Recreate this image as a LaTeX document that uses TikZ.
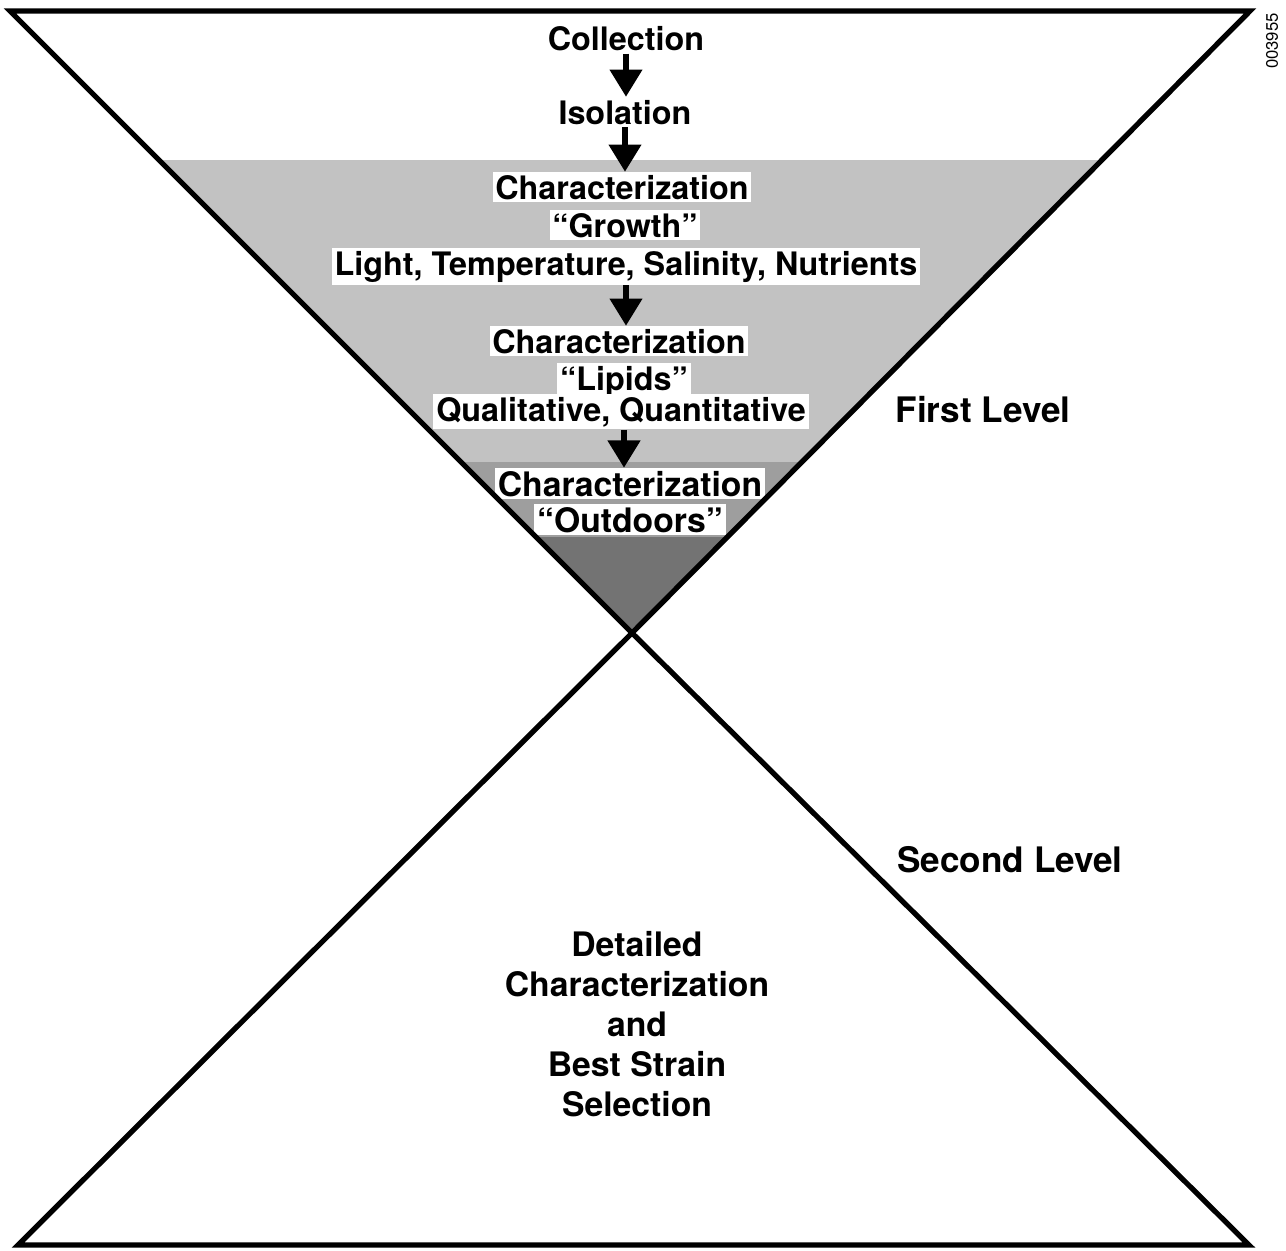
\documentclass[tikz,border=0pt]{standalone}
\usepackage{fontspec}
\setmainfont{TeX Gyre Heros}
\usepackage{tikz}
\usetikzlibrary{arrows.meta, positioning, calc}

\tikzset{
    stage/.style={fill=white, inner sep=1.6pt, anchor=base, font=\bfseries\fontsize{18.4}{22}\selectfont},
    bigstage/.style={stage, font=\bfseries\fontsize{19.2}{23}\selectfont},
    levelname/.style={anchor=base, inner sep=0pt, font=\bfseries\fontsize{20}{24}\selectfont},
    flow/.style={line width=3.2pt, -{Triangle[length=15.5pt,width=18pt]}},
    funnel/.style={line width=3pt, line join=miter},
}

\begin{document}
\begin{tikzpicture}[x=0.02cm, y=-0.02cm]
    \useasboundingbox (0,0) rectangle (1286,1251);

    % corners of the two triangles
    \coordinate (tl) at (10,11);
    \coordinate (tr) at (1250,11);
    \coordinate (mid) at (632,633);
    \coordinate (bl) at (18,1245);
    \coordinate (br) at (1249,1245);

    % screened bands inside the upper triangle
    \begin{scope}
        \clip (tl) -- (tr) -- (mid) -- cycle;
        \fill[black!24] (0,160) rectangle (1286,462);
        \fill[black!38] (0,462) rectangle (1286,537);
        \fill[black!55] (0,537) rectangle (1286,640);
    \end{scope}

    % first level
    \node[stage] (col) at (626,50) {Collection};
    \node[stage] (iso) at (625,124) {Isolation};
    \node[stage] (grwA) at (622,199) {Characterization};
    \node[stage] (grwB) at (625,237) {``Growth''};
    \node[stage] (grwC) at (626,275) {Light, Temperature, Salinity, Nutrients};
    \node[stage] (lipA) at (619,353) {Characterization};
    \node[stage] (lipB) at (624,390) {``Lipids''};
    \node[stage] (lipC) at (621,421) {Qualitative, Quantitative};
    \node[bigstage] (outA) at (630,496) {Characterization};
    \node[bigstage] (outB) at (630,532) {``Outdoors''};

    \draw[flow] (col.south) -- (col.south |- iso.north);
    \draw[flow] (iso.south) -- (iso.south |- grwA.north);
    \draw[flow] (grwC.south) -- (grwC.south |- lipA.north);
    \draw[flow] (lipB.south |- lipC.south) -- (lipB.south |- outA.north);

    \node[levelname] (first) at (983,422) {First Level};
    \node[levelname] (second) at (1010,872) {Second Level};

    % second level
    \node[align=center, font=\bfseries\fontsize{19.2}{22.8}\selectfont] (best) at (637,1024)
        {Detailed\\Characterization\\and\\Best Strain\\Selection};

    \node[rotate=90, font=\fontsize{9.5}{11}\selectfont] (code) at (1272,41) {003955};

    % outlines
    \draw[funnel] (tl) -- (tr) -- (mid) -- cycle;
    \draw[funnel] (mid) -- (br) -- (bl) -- cycle;
\end{tikzpicture}
\end{document}
